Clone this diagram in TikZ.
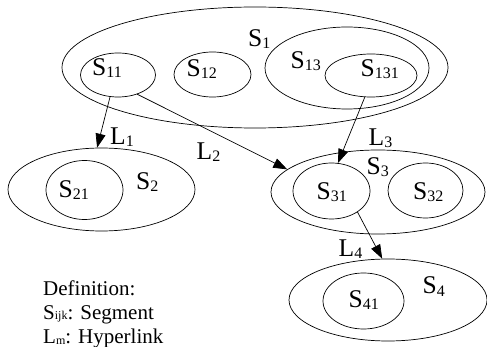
\documentclass[tikz,border=0pt]{standalone}
\usepackage{fontspec}
\setmainfont{Liberation Serif}
\usetikzlibrary{shapes.geometric,arrows.meta}
\newcommand{\seg}[2]{#1\raisebox{-2pt}{\fontsize{16}{16}\selectfont #2}}
\newcommand{\segs}[2]{#1\raisebox{-1pt}{\fontsize{12}{12}\selectfont #2}}
\begin{document}
\begin{tikzpicture}[x=1pt,y=-1pt,
  blob/.style={draw,ellipse,line width=0.7pt,inner sep=0pt},
  lbl/.style={font=\fontsize{25.5}{28}\selectfont,inner sep=0pt,anchor=base west},
  link/.style={draw,line width=0.7pt,-{Triangle[length=14pt,width=10pt]}},
  deftext/.style={font=\fontsize{21}{24}\selectfont,inner sep=0pt,anchor=base west}]
\useasboundingbox (0,0) rectangle (487,347);
% ellipses
\node[blob,minimum width=386pt,minimum height=121pt] (s1) at (255,67.5) {};
\node[blob,minimum width=75pt,minimum height=44pt] (s11) at (118,75) {};
\node[blob,minimum width=77pt,minimum height=45pt] (s12) at (212.5,74.5) {};
\node[blob,minimum width=164pt,minimum height=82pt] (s13) at (347,68) {};
\node[blob,minimum width=92pt,minimum height=43pt] (s131) at (371,75.5) {};
\node[blob,minimum width=187pt,minimum height=83pt] (s2) at (101.5,189.5) {};
\node[blob,minimum width=77pt,minimum height=59pt] (s21) at (84.5,190) {};
\node[blob,minimum width=214pt,minimum height=84pt] (s3) at (378,192) {};
\node[blob,minimum width=77pt,minimum height=56pt] (s31) at (331.5,191) {};
\node[blob,minimum width=75pt,minimum height=55pt] (s32) at (425.5,190.5) {};
\node[blob,minimum width=198pt,minimum height=82pt] (s4) at (388,300) {};
\node[blob,minimum width=81pt,minimum height=56pt] (s41) at (363.5,301) {};
% labels
\node[lbl] (t1) at (248,46.5) {\seg{S}{1}};
\node[lbl] (t11) at (92,76) {\seg{S}{11}};
\node[lbl] (t12) at (186.5,76.5) {\seg{S}{12}};
\node[lbl] (t13) at (290.5,68.5) {\seg{S}{13}};
\node[lbl] (t131) at (360.5,77) {\seg{S}{131}};
\node[lbl] (t2) at (136,190) {\seg{S}{2}};
\node[lbl] (t21) at (58.5,197.5) {\seg{S}{21}};
\node[lbl] (t3) at (366.5,175) {\seg{S}{3}};
\node[lbl] (t31) at (316.5,200) {\seg{S}{31}};
\node[lbl] (t32) at (413,200) {\seg{S}{32}};
\node[lbl] (t4) at (422.5,294) {\seg{S}{4}};
\node[lbl] (t41) at (348.5,307) {\seg{S}{41}};
\node[lbl] (l1) at (110,145) {\seg{L}{1}};
\node[lbl] (l2) at (196.5,160) {\seg{L}{2}};
\node[lbl] (l3) at (368.5,145.5) {\seg{L}{3}};
\node[lbl] (l4) at (338.5,257) {\seg{L}{4}};
% links
\draw[link] (s11.250) -- (s2.96);
\draw[link] (s11.315) -- (s3.166);
\draw[link] (s131.254) -- (s31.77);
\draw[link] (s31.321) -- (s4.98);
% definition
\node[deftext] (d1) at (43,295) {Definition:};
\node[deftext] (d2) at (43,319) {\segs{S}{ijk}: Segment};
\node[deftext] (d3) at (43,343) {\segs{L}{m}: Hyperlink};
\end{tikzpicture}
\end{document}
